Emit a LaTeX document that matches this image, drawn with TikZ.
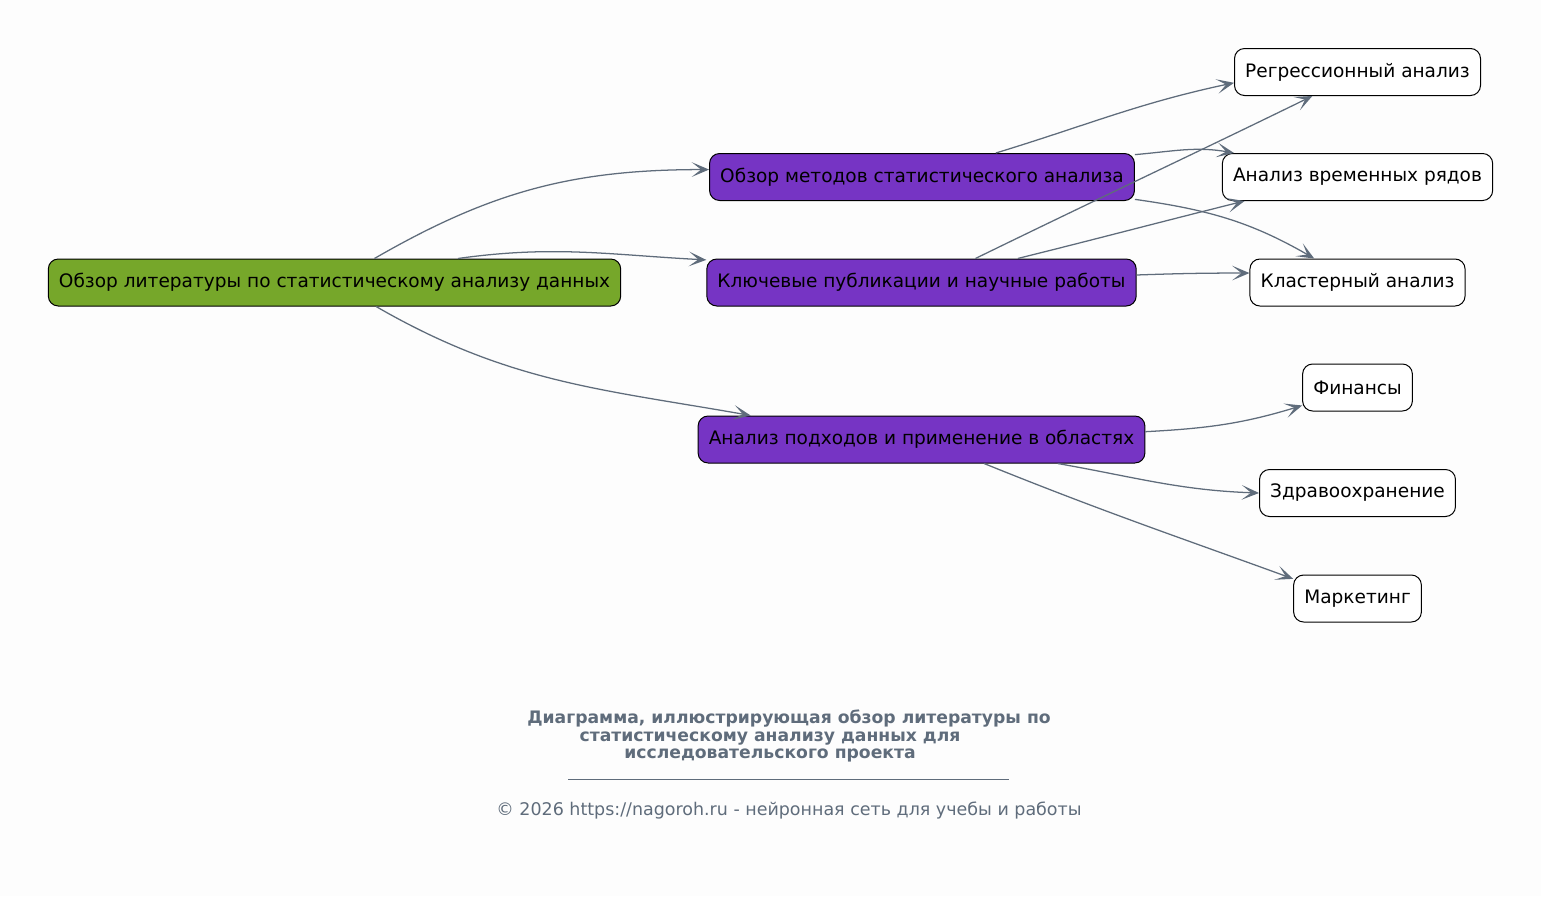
\documentclass[tikz,border=0pt]{standalone}
\usepackage{fontspec}
\setmainfont{DejaVu Sans}
\usetikzlibrary{arrows.meta}
\definecolor{BgClr}{RGB}{253,253,253}
\definecolor{RootClr}{RGB}{118,167,42}
\definecolor{MidClr}{RGB}{118,52,196}
\definecolor{EdgeClr}{RGB}{95,108,123}

\begin{document}
\begin{tikzpicture}[x=0.75pt,y=0.75pt,
  box/.style={draw=black,line width=0.75pt,rounded corners=7.5pt,
    minimum height=35.25pt,inner xsep=8pt,font=\fontsize{13.9}{16}\selectfont},
  rootbox/.style={box,fill=RootClr},
  midbox/.style={box,fill=MidClr},
  leafbox/.style={box,fill=white},
  link/.style={draw=EdgeClr,line width=0.95pt,
    arrows={-Stealth[length=13pt,width=11pt,inset=7pt]}}]

\fill[BgClr] (0,0) rectangle (1541,-896);

% nodes
\node[rootbox] (root) at (334.5,-282.5) {Обзор литературы по статистическому анализу данных};

\node[midbox] (methods) at (922,-177) {Обзор методов статистического анализа};
\node[midbox] (papers) at (921.5,-282.5) {Ключевые публикации и научные работы};
\node[midbox] (fields) at (921.5,-439.5) {Анализ подходов и применение в областях};

\node[leafbox] (regr) at (1357.5,-72) {Регрессионный анализ};
\node[leafbox] (tseries) at (1357.5,-177) {Анализ временных рядов};
\node[leafbox] (cluster) at (1357.5,-282.5) {Кластерный анализ};
\node[leafbox] (finance) at (1357.5,-387.5) {Финансы};
\node[leafbox] (health) at (1357.5,-493) {Здравоохранение};
\node[leafbox] (market) at (1357.5,-598.5) {Маркетинг};

% edges
\draw[link] (root.31) to[out=30,in=180] (methods.178);
\draw[link] (root.11) to[out=8,in=177] (papers.174);
\draw[link] (root.-30) to[out=-30,in=170] (fields.172);

\draw[link] (methods.18) to[out=17,in=192] (regr.185);
\draw[link] (methods.6) to[out=5,in=170] (tseries.169);
\draw[link] (methods.-6) to[out=-8,in=150] (cluster.151);

\draw[link] (papers.24) to[out=26,in=206] (regr.208);
\draw[link] (papers.14) to[out=14,in=194] (tseries.192);
\draw[link] (papers.2) to[out=2,in=180] (cluster.175);

\draw[link] (fields.2) to[out=3,in=197] (finance.198);
\draw[link] (fields.-10) to[out=-10,in=178] (health.180);
\draw[link] (fields.-21) to[out=-22,in=160] (market.163);

% caption
\node[EdgeClr,font=\bfseries\fontsize{12.9}{13.2}\selectfont,align=center] (title) at (789,-736)
  {Диаграмма, иллюстрирующая обзор литературы по\\
   статистическому анализу данных для\rule{28.5pt}{0pt}\\
   исследовательского проекта\rule{28.5pt}{0pt}};
\draw[EdgeClr,line width=0.5pt] (568,-779) -- (1009,-779);
\node[EdgeClr,font=\fontsize{13.1}{15}\selectfont] (copy) at (789,-811)
  {© 2026 https://nagoroh.ru - нейронная сеть для учебы и работы};

\end{tikzpicture}
\end{document}
